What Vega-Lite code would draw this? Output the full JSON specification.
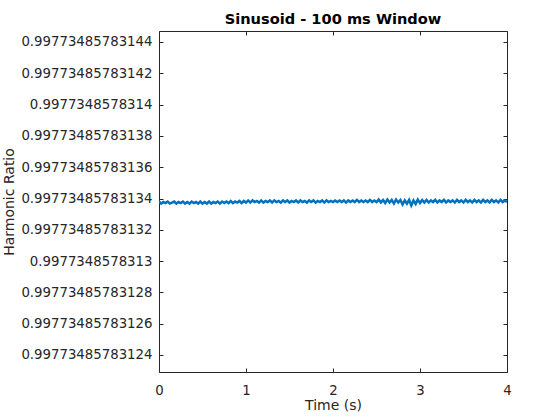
{
  "$schema": "https://vega.github.io/schema/vega-lite/v6.json",
  "width": 348,
  "height": 341,
  "autosize": "none",
  "padding": {"left": 159, "top": 31, "right": 53, "bottom": 48},
  "config": {
    "font": "DejaVu Sans",
    "view": {"stroke": "#262626", "strokeWidth": 1},
    "axis": {"grid": false, "domain": false, "tickColor": "#262626", "tickSize": -4, "labelColor": "#262626", "titleColor": "#262626", "labelFont": "DejaVu Sans", "titleFont": "DejaVu Sans", "labelFontSize": 13.3, "titleFontSize": 14, "titleFontWeight": "normal", "labelOverlap": false, "labelFlush": false}
  },
  "title": {"text": "Sinusoid - 100 ms Window", "fontSize": 14.6, "fontWeight": "bold", "color": "#000000", "font": "DejaVu Sans", "anchor": "middle", "offset": 4},
  "data": {"values": [
    {"t": 0, "r": 0.99773485783133808},
    {"t": 0.025, "r": 0.9977348578313368},
    {"t": 0.05, "r": 0.99773485783133776},
    {"t": 0.075, "r": 0.99773485783133712},
    {"t": 0.1, "r": 0.99773485783133808},
    {"t": 0.125, "r": 0.9977348578313368},
    {"t": 0.15, "r": 0.99773485783133744},
    {"t": 0.175, "r": 0.99773485783133808},
    {"t": 0.2, "r": 0.9977348578313368},
    {"t": 0.225, "r": 0.99773485783133776},
    {"t": 0.25, "r": 0.99773485783133712},
    {"t": 0.275, "r": 0.99773485783133808},
    {"t": 0.3, "r": 0.9977348578313368},
    {"t": 0.325, "r": 0.99773485783133776},
    {"t": 0.35, "r": 0.9977348578313368},
    {"t": 0.375, "r": 0.99773485783133808},
    {"t": 0.4, "r": 0.99773485783133712},
    {"t": 0.425, "r": 0.99773485783133776},
    {"t": 0.45, "r": 0.9977348578313368},
    {"t": 0.475, "r": 0.99773485783133808},
    {"t": 0.5, "r": 0.9977348578313368},
    {"t": 0.525, "r": 0.99773485783133776},
    {"t": 0.55, "r": 0.9977348578313368},
    {"t": 0.575, "r": 0.99773485783133808},
    {"t": 0.6, "r": 0.9977348578313368},
    {"t": 0.625, "r": 0.99773485783133776},
    {"t": 0.65, "r": 0.99773485783133712},
    {"t": 0.675, "r": 0.99773485783133808},
    {"t": 0.7, "r": 0.9977348578313368},
    {"t": 0.725, "r": 0.99773485783133808},
    {"t": 0.75, "r": 0.99773485783133712},
    {"t": 0.775, "r": 0.99773485783133808},
    {"t": 0.8, "r": 0.99773485783133712},
    {"t": 0.825, "r": 0.9977348578313384},
    {"t": 0.85, "r": 0.99773485783133712},
    {"t": 0.875, "r": 0.99773485783133808},
    {"t": 0.9, "r": 0.99773485783133744},
    {"t": 0.925, "r": 0.9977348578313384},
    {"t": 0.95, "r": 0.99773485783133712},
    {"t": 0.975, "r": 0.9977348578313384},
    {"t": 1.0, "r": 0.99773485783133744},
    {"t": 1.025, "r": 0.99773485783133872},
    {"t": 1.05, "r": 0.99773485783133744},
    {"t": 1.075, "r": 0.99773485783133872},
    {"t": 1.1, "r": 0.99773485783133776},
    {"t": 1.125, "r": 0.9977348578313384},
    {"t": 1.15, "r": 0.99773485783133744},
    {"t": 1.175, "r": 0.99773485783133872},
    {"t": 1.2, "r": 0.99773485783133744},
    {"t": 1.225, "r": 0.9977348578313384},
    {"t": 1.25, "r": 0.99773485783133776},
    {"t": 1.275, "r": 0.99773485783133872},
    {"t": 1.3, "r": 0.99773485783133744},
    {"t": 1.325, "r": 0.99773485783133872},
    {"t": 1.35, "r": 0.99773485783133776},
    {"t": 1.375, "r": 0.9977348578313384},
    {"t": 1.4, "r": 0.99773485783133744},
    {"t": 1.425, "r": 0.99773485783133872},
    {"t": 1.45, "r": 0.99773485783133776},
    {"t": 1.475, "r": 0.99773485783133872},
    {"t": 1.5, "r": 0.99773485783133744},
    {"t": 1.525, "r": 0.9977348578313384},
    {"t": 1.55, "r": 0.99773485783133776},
    {"t": 1.575, "r": 0.99773485783133872},
    {"t": 1.6, "r": 0.99773485783133744},
    {"t": 1.625, "r": 0.99773485783133872},
    {"t": 1.65, "r": 0.99773485783133776},
    {"t": 1.675, "r": 0.9977348578313384},
    {"t": 1.7, "r": 0.99773485783133744},
    {"t": 1.725, "r": 0.99773485783133872},
    {"t": 1.75, "r": 0.99773485783133776},
    {"t": 1.775, "r": 0.99773485783133872},
    {"t": 1.8, "r": 0.99773485783133744},
    {"t": 1.825, "r": 0.9977348578313384},
    {"t": 1.85, "r": 0.99773485783133776},
    {"t": 1.875, "r": 0.99773485783133872},
    {"t": 1.9, "r": 0.99773485783133744},
    {"t": 1.925, "r": 0.99773485783133872},
    {"t": 1.95, "r": 0.99773485783133776},
    {"t": 1.975, "r": 0.9977348578313384},
    {"t": 2.0, "r": 0.99773485783133776},
    {"t": 2.025, "r": 0.99773485783133872},
    {"t": 2.05, "r": 0.99773485783133776},
    {"t": 2.075, "r": 0.99773485783133872},
    {"t": 2.1, "r": 0.99773485783133776},
    {"t": 2.125, "r": 0.99773485783133872},
    {"t": 2.15, "r": 0.99773485783133744},
    {"t": 2.175, "r": 0.99773485783133872},
    {"t": 2.2, "r": 0.99773485783133776},
    {"t": 2.225, "r": 0.99773485783133872},
    {"t": 2.25, "r": 0.99773485783133776},
    {"t": 2.275, "r": 0.99773485783133904},
    {"t": 2.3, "r": 0.99773485783133776},
    {"t": 2.325, "r": 0.99773485783133872},
    {"t": 2.35, "r": 0.99773485783133776},
    {"t": 2.375, "r": 0.99773485783133872},
    {"t": 2.4, "r": 0.99773485783133776},
    {"t": 2.425, "r": 0.99773485783133904},
    {"t": 2.45, "r": 0.99773485783133776},
    {"t": 2.475, "r": 0.99773485783133872},
    {"t": 2.5, "r": 0.99773485783133776},
    {"t": 2.525, "r": 0.99773485783133936},
    {"t": 2.55, "r": 0.99773485783133744},
    {"t": 2.575, "r": 0.99773485783133904},
    {"t": 2.6, "r": 0.99773485783133712},
    {"t": 2.625, "r": 0.99773485783133936},
    {"t": 2.65, "r": 0.99773485783133744},
    {"t": 2.675, "r": 0.99773485783133904},
    {"t": 2.7, "r": 0.9977348578313368},
    {"t": 2.725, "r": 0.99773485783133936},
    {"t": 2.75, "r": 0.99773485783133744},
    {"t": 2.775, "r": 0.99773485783133904},
    {"t": 2.8, "r": 0.99773485783133616},
    {"t": 2.825, "r": 0.99773485783133872},
    {"t": 2.85, "r": 0.9977348578313368},
    {"t": 2.875, "r": 0.99773485783133904},
    {"t": 2.9, "r": 0.99773485783133552},
    {"t": 2.925, "r": 0.99773485783133872},
    {"t": 2.95, "r": 0.99773485783133648},
    {"t": 2.975, "r": 0.99773485783133936},
    {"t": 3.0, "r": 0.99773485783133712},
    {"t": 3.025, "r": 0.99773485783133904},
    {"t": 3.05, "r": 0.99773485783133744},
    {"t": 3.075, "r": 0.99773485783133904},
    {"t": 3.1, "r": 0.99773485783133744},
    {"t": 3.125, "r": 0.99773485783133872},
    {"t": 3.15, "r": 0.99773485783133776},
    {"t": 3.175, "r": 0.99773485783133904},
    {"t": 3.2, "r": 0.99773485783133744},
    {"t": 3.225, "r": 0.99773485783133872},
    {"t": 3.25, "r": 0.99773485783133776},
    {"t": 3.275, "r": 0.99773485783133904},
    {"t": 3.3, "r": 0.99773485783133744},
    {"t": 3.325, "r": 0.99773485783133872},
    {"t": 3.35, "r": 0.99773485783133776},
    {"t": 3.375, "r": 0.99773485783133872},
    {"t": 3.4, "r": 0.99773485783133744},
    {"t": 3.425, "r": 0.99773485783133904},
    {"t": 3.45, "r": 0.99773485783133776},
    {"t": 3.475, "r": 0.99773485783133872},
    {"t": 3.5, "r": 0.99773485783133744},
    {"t": 3.525, "r": 0.99773485783133904},
    {"t": 3.55, "r": 0.99773485783133776},
    {"t": 3.575, "r": 0.99773485783133872},
    {"t": 3.6, "r": 0.99773485783133744},
    {"t": 3.625, "r": 0.99773485783133904},
    {"t": 3.65, "r": 0.99773485783133776},
    {"t": 3.675, "r": 0.99773485783133872},
    {"t": 3.7, "r": 0.99773485783133744},
    {"t": 3.725, "r": 0.99773485783133904},
    {"t": 3.75, "r": 0.99773485783133776},
    {"t": 3.775, "r": 0.99773485783133872},
    {"t": 3.8, "r": 0.99773485783133744},
    {"t": 3.825, "r": 0.99773485783133904},
    {"t": 3.85, "r": 0.99773485783133776},
    {"t": 3.875, "r": 0.99773485783133872},
    {"t": 3.9, "r": 0.99773485783133744},
    {"t": 3.925, "r": 0.99773485783133904},
    {"t": 3.95, "r": 0.99773485783133776},
    {"t": 3.975, "r": 0.99773485783133872},
    {"t": 4.0, "r": 0.99773485783133776}
  ]},
  "layer": [
    {
      "mark": {"type": "line", "color": "#0072BD", "strokeWidth": 2.5, "clip": true},
      "encoding": {
        "x": {"field": "t", "type": "quantitative", "scale": {"domain": [0, 4], "nice": false, "zero": false},
          "axis": {"orient": "bottom", "title": "Time (s)", "values": [0, 1, 2, 3, 4], "format": "d", "labelPadding": 15, "titlePadding": 2}},
        "y": {"field": "r", "type": "quantitative", "scale": {"domain": [0.99773485783122914, 0.99773485783144703], "nice": false, "zero": false},
          "axis": {"orient": "left", "title": "Harmonic Ratio", "values": [0.99773485783124, 0.99773485783126, 0.99773485783128, 0.9977348578313, 0.99773485783132, 0.99773485783134, 0.99773485783136, 0.99773485783138, 0.9977348578314, 0.99773485783142, 0.99773485783144],
            "labelExpr": "replace(format(datum.value, '.14f'), /0+$/, '')", "labelPadding": 11, "titlePadding": 4}}
      }
    },
    {
      "mark": {"type": "line", "opacity": 0},
      "encoding": {
        "x": {"field": "t", "type": "quantitative", "scale": {"domain": [0, 4], "nice": false, "zero": false},
          "axis": {"orient": "top", "title": null, "labels": false, "values": [0, 1, 2, 3, 4]}},
        "y": {"field": "r", "type": "quantitative", "scale": {"domain": [0.99773485783122914, 0.99773485783144703], "nice": false, "zero": false},
          "axis": {"orient": "right", "title": null, "labels": false, "values": [0.99773485783124, 0.99773485783126, 0.99773485783128, 0.9977348578313, 0.99773485783132, 0.99773485783134, 0.99773485783136, 0.99773485783138, 0.9977348578314, 0.99773485783142, 0.99773485783144]}}
      }
    }
  ],
  "resolve": {"axis": {"x": "independent", "y": "independent"}}
}
